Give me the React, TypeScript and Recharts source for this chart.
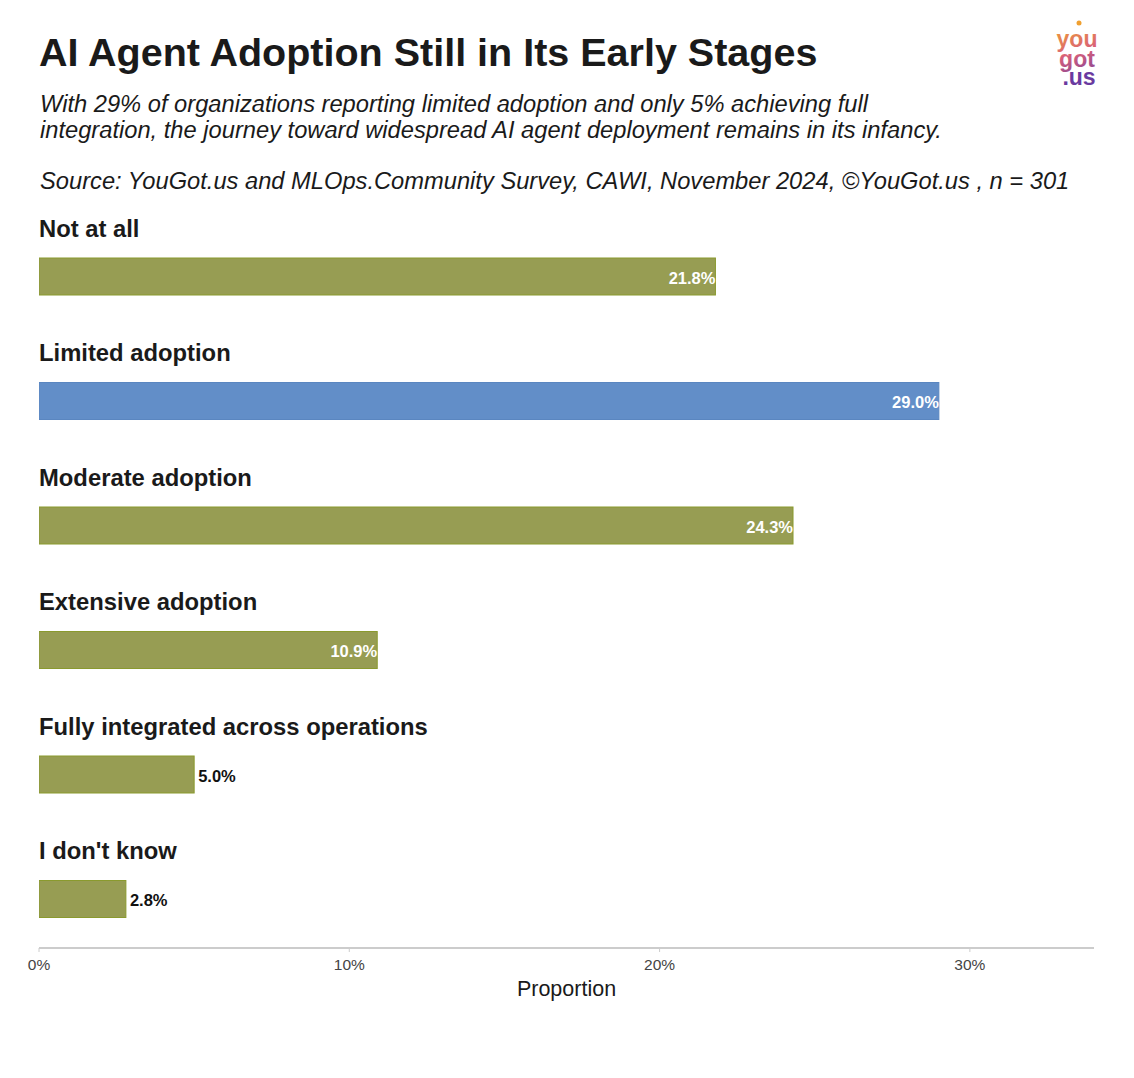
import React from "react";
import { BarChart, Bar, XAxis, YAxis, LabelList } from "recharts";

const categories = [
  "Not at all",
  "Limited adoption",
  "Moderate adoption",
  "Extensive adoption",
  "Fully integrated across operations",
  "I don't know",
];
const values = [21.8, 29.0, 24.3, 10.9, 5.0, 2.8];
const highlighted = [false, true, false, false, false, false];
const xTicks = [0, 10, 20, 30];

const GREEN = "#979d53";
const GREEN_STROKE = "#8a9a2e";
const BLUE = "#628ec8";
const BLUE_STROKE = "#5a86c0";

const data = categories.map((name, i) => ({
  name,
  spacer: 0,
  value: values[i],
  hi: highlighted[i],
}));

const FONT = "'Liberation Sans', Arial, Helvetica, sans-serif";

const BarShape = (props: any) => {
  const { x, y, width, height, payload } = props;
  const hi = payload && payload.hi;
  return (
    <rect
      x={x}
      y={y}
      width={width}
      height={height}
      fill={hi ? BLUE : GREEN}
      stroke={hi ? BLUE_STROKE : GREEN_STROKE}
      strokeWidth={1}
    />
  );
};

const CategoryLabel = (props: any) => {
  const { x, y, value } = props;
  return (
    <text
      x={x}
      y={y - 30}
      dominantBaseline="central"
      fontFamily={FONT}
      fontWeight="bold"
      fontSize={23.8}
      fill="#1a1a1a"
    >
      {value}
    </text>
  );
};

const ValueLabel = (props: any) => {
  const { x, y, width, height, value } = props;
  const inside = value >= 10;
  const text = `${Number(value).toFixed(1)}%`;
  return (
    <text
      x={inside ? x + width : x + width + 4}
      y={y + height / 2 + 1}
      textAnchor={inside ? "end" : "start"}
      dominantBaseline="central"
      fontFamily={FONT}
      fontWeight="bold"
      fontSize={16.5}
      fill={inside ? "#ffffff" : "#111111"}
    >
      {text}
    </text>
  );
};

const Logo = () => (
  <svg width={70} height={84} viewBox="0 0 70 84">
    <defs>
      <linearGradient id="lg" x1="0" y1="0" x2="0.2" y2="1">
        <stop offset="0%" stopColor="#f0a030" />
        <stop offset="50%" stopColor="#d8607a" />
        <stop offset="100%" stopColor="#6a3aa0" />
      </linearGradient>
    </defs>
    <circle cx={36} cy={7} r={2.5} fill="#f0a030" />
    <text
      textAnchor="middle"
      fontFamily={FONT}
      fontWeight="bold"
      fontSize={23}
      fill="url(#lg)"
    >
      <tspan x={34} y={31}>you</tspan>
      <tspan x={34} y={51}>got</tspan>
      <tspan x={36} y={69} fill="#6a3aa0">.us</tspan>
    </text>
  </svg>
);

export default function App() {
  return (
    <div
      style={{
        position: "absolute",
        left: 0,
        top: 0,
        width: 1134,
        height: 1078,
        background: "#ffffff",
        fontFamily: FONT,
        overflow: "hidden",
      }}
    >
      <div
        style={{
          position: "absolute",
          left: 39,
          top: 30,
          fontSize: 39.5,
          fontWeight: "bold",
          color: "#1a1a1a",
          whiteSpace: "nowrap",
        }}
      >
        AI Agent Adoption Still in Its Early Stages
      </div>
      <div
        style={{
          position: "absolute",
          left: 40,
          top: 91,
          fontSize: 23.7,
          lineHeight: "26px",
          fontStyle: "italic",
          color: "#1a1a1a",
          whiteSpace: "nowrap",
        }}
      >
        With 29% of organizations reporting limited adoption and only 5% achieving full
        <br />
        integration, the journey toward widespread AI agent deployment remains in its infancy.
      </div>
      <div
        style={{
          position: "absolute",
          left: 40,
          top: 168,
          fontSize: 23.7,
          lineHeight: "26px",
          fontStyle: "italic",
          color: "#1a1a1a",
          whiteSpace: "nowrap",
        }}
      >
        Source: YouGot.us and MLOps.Community Survey, CAWI, November 2024, ©YouGot.us , n = 301
      </div>
      <div style={{ position: "absolute", left: 1043, top: 16 }}>
        <Logo />
      </div>
      <div style={{ position: "absolute", left: 0, top: 0 }}>
        <BarChart
          width={1134}
          height={1078}
          data={data}
          layout="vertical"
          margin={{ top: 196, right: 40, bottom: 70, left: 39 }}
          barSize={37}
          barGap={0}
        >
          <XAxis
            type="number"
            domain={[0, 34]}
            ticks={xTicks}
            tickFormatter={(v: number) => `${v}%`}
            axisLine={{ stroke: "#cccccc", strokeWidth: 2 }}
            tickLine={{ stroke: "#cccccc" }}
            tickSize={4}
            tickMargin={7}
            tick={{ fill: "#444444", fontSize: 15.5, fontFamily: FONT }}
            height={60}
            allowDataOverflow
            label={{
              value: "Proportion",
              position: "insideBottom",
              offset: 12,
              fill: "#1a1a1a",
              fontSize: 21.5,
              fontFamily: FONT,
            }}
          />
          <YAxis type="category" dataKey="name" hide padding={{ top: 0, bottom: 5 }} />
          <Bar dataKey="spacer" fill="transparent" isAnimationActive={false} />
          <Bar dataKey="value" shape={<BarShape />} isAnimationActive={false}>
            <LabelList dataKey="name" content={<CategoryLabel />} />
            <LabelList dataKey="value" content={<ValueLabel />} />
          </Bar>
        </BarChart>
      </div>
    </div>
  );
}
